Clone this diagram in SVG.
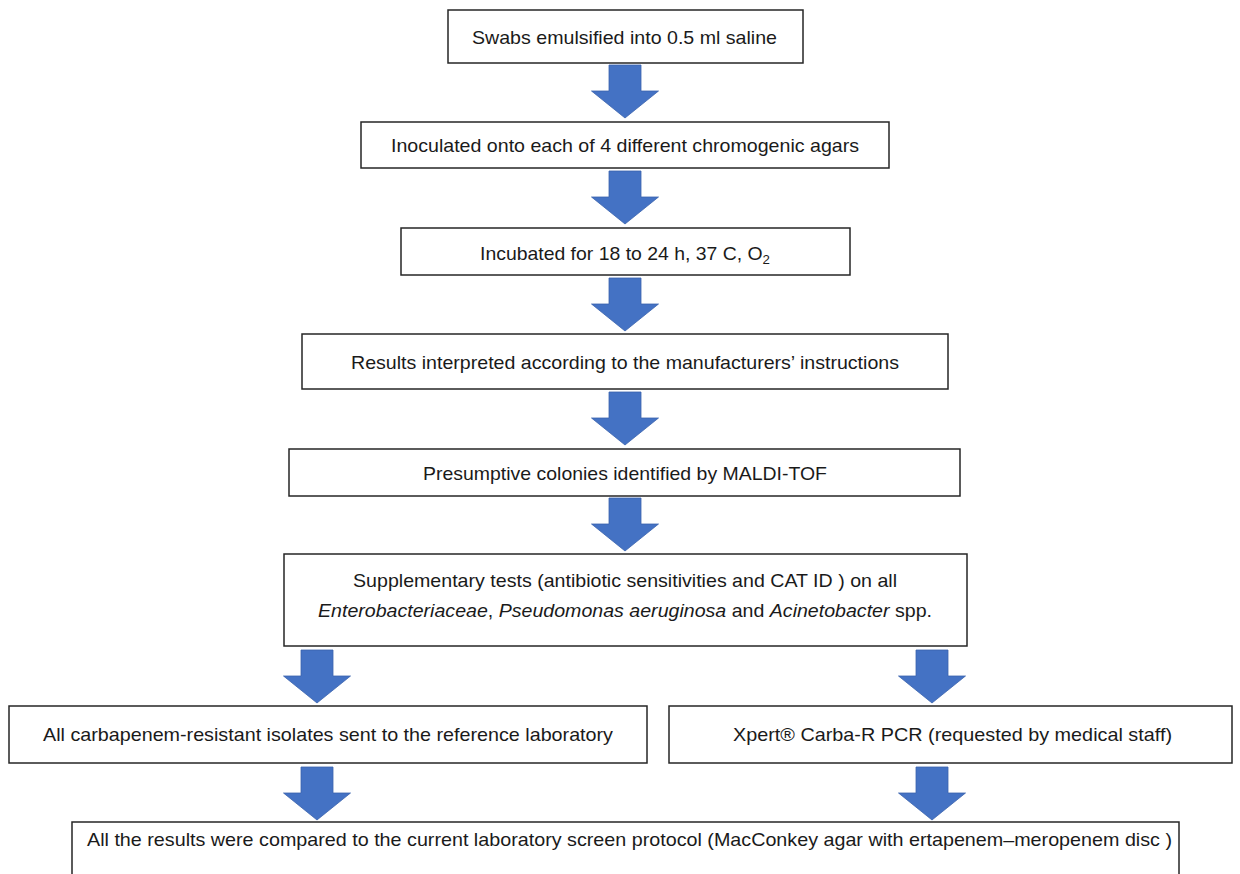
<svg xmlns="http://www.w3.org/2000/svg" xmlns:xlink="http://www.w3.org/1999/xlink" width="1240" height="874" viewBox="0 0 1240 874">
  <style>
    .box { fill: #ffffff; stroke: #262626; stroke-width: 1.5; }
    .lbl { font-family: "Liberation Sans", Arial, sans-serif; font-size: 19px; fill: #1a1a1a; }
    .it { font-style: italic; }
    .arr { fill: #4472C4; stroke: #3b63ad; stroke-width: 0.8; }
  </style>
  <defs>
    <path id="downArrow" d="M-16,-53 H16 V-27 H33.5 L0,0 L-33.5,-27 H-16 Z"/>
  </defs>
  <rect width="1240" height="874" fill="#ffffff"/>

  <g id="connectors">
    <use xlink:href="#downArrow" href="#downArrow" class="arr" x="625" y="118"/>
    <use xlink:href="#downArrow" href="#downArrow" class="arr" x="625" y="224"/>
    <use xlink:href="#downArrow" href="#downArrow" class="arr" x="625" y="331"/>
    <use xlink:href="#downArrow" href="#downArrow" class="arr" x="625" y="445"/>
    <use xlink:href="#downArrow" href="#downArrow" class="arr" x="625" y="551"/>
    <use xlink:href="#downArrow" href="#downArrow" class="arr" x="317" y="703"/>
    <use xlink:href="#downArrow" href="#downArrow" class="arr" x="932" y="703"/>
    <use xlink:href="#downArrow" href="#downArrow" class="arr" x="317" y="820"/>
    <use xlink:href="#downArrow" href="#downArrow" class="arr" x="932" y="820"/>
  </g>

  <g id="n1">
    <rect class="box" x="448" y="10" width="355" height="53"/>
    <text class="lbl" x="472" y="44" textLength="305" lengthAdjust="spacingAndGlyphs">Swabs emulsified into 0.5 ml saline</text>
  </g>
  <g id="n2">
    <rect class="box" x="361" y="122" width="528" height="46"/>
    <text class="lbl" x="391" y="152" textLength="468" lengthAdjust="spacingAndGlyphs">Inoculated onto each of 4 different chromogenic agars</text>
  </g>
  <g id="n3">
    <rect class="box" x="401" y="228" width="449" height="47"/>
    <text class="lbl" x="480" y="260" textLength="290" lengthAdjust="spacingAndGlyphs">Incubated for 18 to 24 h, 37 C, O<tspan font-size="13" dy="4">2</tspan></text>
  </g>
  <g id="n4">
    <rect class="box" x="302" y="334" width="646" height="55"/>
    <text class="lbl" x="351" y="369" textLength="548" lengthAdjust="spacingAndGlyphs">Results interpreted according to the manufacturers’ instructions</text>
  </g>
  <g id="n5">
    <rect class="box" x="289" y="449" width="671" height="47"/>
    <text class="lbl" x="423" y="480" textLength="404" lengthAdjust="spacingAndGlyphs">Presumptive colonies identified by MALDI-TOF</text>
  </g>
  <g id="n6">
    <rect class="box" x="284" y="554" width="683" height="92"/>
    <text class="lbl" x="353" y="587" textLength="544" lengthAdjust="spacingAndGlyphs">Supplementary tests (antibiotic sensitivities and CAT ID ) on all</text>
    <text class="lbl" x="318" y="617" textLength="614" lengthAdjust="spacingAndGlyphs"><tspan class="it">Enterobacteriaceae</tspan>, <tspan class="it">Pseudomonas aeruginosa</tspan> and <tspan class="it">Acinetobacter</tspan> spp.</text>
  </g>
  <g id="n7">
    <rect class="box" x="9" y="706" width="638" height="57"/>
    <text class="lbl" x="43" y="741" textLength="570" lengthAdjust="spacingAndGlyphs">All carbapenem-resistant isolates sent to the reference laboratory</text>
  </g>
  <g id="n8">
    <rect class="box" x="669" y="706" width="563" height="57"/>
    <text class="lbl" x="733" y="741" textLength="439" lengthAdjust="spacingAndGlyphs">Xpert® Carba-R PCR (requested by medical staff)</text>
  </g>
  <g id="n9">
    <rect class="box" x="72" y="822" width="1107" height="70"/>
    <text class="lbl" x="87" y="846" textLength="1085" lengthAdjust="spacingAndGlyphs">All the results were compared to the current laboratory screen protocol (MacConkey agar with ertapenem–meropenem disc )</text>
  </g>
</svg>
